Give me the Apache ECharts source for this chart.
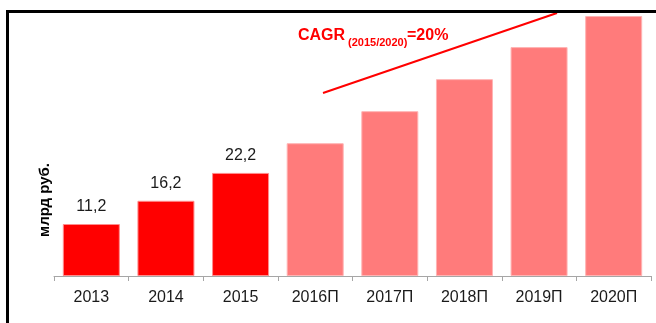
<!DOCTYPE html>
<html>
<head>
<meta charset="utf-8">
<script src="https://cdn.jsdelivr.net/npm/echarts@6/dist/echarts.min.js"></script>
<style>
  html, body { margin: 0; padding: 0; background: #fff; }
  #chart { width: 656px; height: 323px; }
</style>
</head>
<body>
<div id="chart"></div>
<script>
// Market volume, bn rubles: actual years and forecast (П)
const categories = ['2013', '2014', '2015', '2016П', '2017П', '2018П', '2019П', '2020П'];
const values = [11.2, 16.2, 22.2, 28.6, 35.5, 42.4, 49.3, 56.0];
const labelText = ['11,2', '16,2', '22,2', '', '', '', '', ''];
const forecastFrom = 3;
const axisName = 'млрд руб.';
const cagrTitle = 'CAGR';
const cagrPeriod = '(2015/2020)';
const cagrValue = '=20%';

const actualColor = '#FF0000';
const actualEdge = '#FF8C8C';
const forecastColor = '#FF7B7B';
const forecastEdge = '#FFB3B3';
const narrow = '"Liberation Sans Narrow", "Arial Narrow", "Liberation Sans", Arial, sans-serif';

const seriesData = values.map((v, i) => ({
  value: v,
  itemStyle: i < forecastFrom
    ? { color: actualColor, borderColor: actualEdge, borderWidth: 1 }
    : { color: forecastColor, borderColor: forecastEdge, borderWidth: 1 },
  label: { show: labelText[i] !== '', formatter: labelText[i] }
}));

const chart = echarts.init(document.getElementById('chart'), null, { renderer: 'canvas' });
chart.setOption({
  animation: false,
  backgroundColor: '#ffffff',
  grid: { left: 54, right: 5, top: 16, bottom: 47 },
  xAxis: {
    type: 'category',
    data: categories,
    axisLine: { lineStyle: { color: '#A6A6A6', width: 1 } },
    axisTick: { show: true, length: 5, lineStyle: { color: '#A6A6A6' } },
    axisLabel: { color: '#1a1a1a', fontFamily: narrow, fontSize: 16, margin: 14 }
  },
  yAxis: {
    type: 'value',
    min: 0,
    max: 56,
    axisLine: { show: false },
    axisTick: { show: false },
    axisLabel: { show: false },
    splitLine: { show: false }
  },
  series: [{
    type: 'bar',
    data: seriesData,
    barWidth: 57,
    clip: false,
    label: {
      position: 'top',
      distance: 9,
      color: '#1a1a1a',
      fontFamily: narrow,
      fontSize: 16
    }
  }],
  graphic: [
    // frame lines along the top and left edge
    { type: 'rect', shape: { x: 6, y: 10, width: 650, height: 3 }, style: { fill: '#000' }, z: 10 },
    { type: 'rect', shape: { x: 6, y: 10, width: 3, height: 313 }, style: { fill: '#000' }, z: 10 },
    // unit caption, rotated
    { type: 'text', x: 45, y: 200, rotation: Math.PI / 2,
      style: { text: axisName, fill: '#000', font: 'bold 15px "Liberation Sans", Arial, sans-serif', align: 'center', verticalAlign: 'middle' }, z: 6 },
    // growth trend annotation
    { type: 'line', shape: { x1: 323, y1: 93, x2: 557, y2: 13 }, style: { stroke: '#FF0000', lineWidth: 2 }, z: 5 },
    { type: 'text', x: 298, y: 28, style: { text: cagrTitle, fill: '#FF0000', font: 'bold 16px "Liberation Sans", Arial, sans-serif' }, z: 6 },
    { type: 'text', x: 348, y: 37, style: { text: cagrPeriod, fill: '#FF0000', font: 'bold 11px "Liberation Sans", Arial, sans-serif' }, z: 6 },
    { type: 'text', x: 407, y: 28, style: { text: cagrValue, fill: '#FF0000', font: 'bold 16px "Liberation Sans", Arial, sans-serif' }, z: 6 }
  ]
});
</script>
</body>
</html>
